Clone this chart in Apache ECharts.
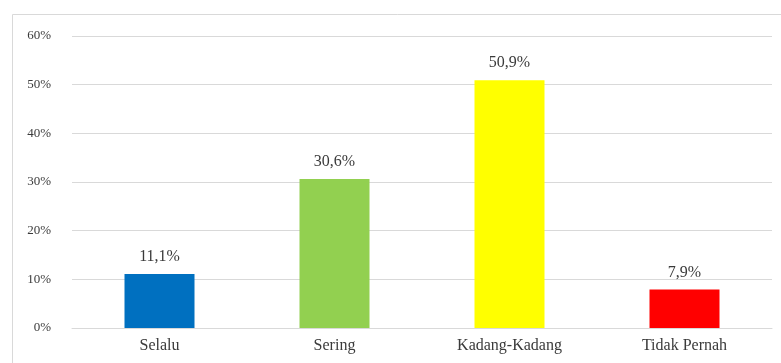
<!DOCTYPE html>
<html><head><meta charset="utf-8">
<script src="https://cdn.jsdelivr.net/npm/echarts@6/dist/echarts.min.js"></script>
<style>html,body{margin:0;padding:0;background:#fff}#c{width:781px;height:363px}</style>
</head><body><div id="c"></div>
<script>
const categories = ['Selalu', 'Sering', 'Kadang-Kadang', 'Tidak Pernah'];
const values = [11.1, 30.6, 50.9, 7.9];
const barColors = ['#0070C0', '#92D050', '#FFFF00', '#FF0000'];
const yTicks = [0, 10, 20, 30, 40, 50, 60];

const chart = echarts.init(document.getElementById('c'));
chart.setOption({
  animation: false,
  graphic: [{type: 'rect', shape: {x: 12.5, y: 14.5, width: 800, height: 400}, style: {fill: 'none', stroke: '#d9d9d9', lineWidth: 1}}],
  grid: {left: 72, right: 9, top: 36, bottom: 35, containLabel: false},
  xAxis: {
    type: 'category', data: categories,
    axisLine: {show: true, lineStyle: {color: '#d9d9d9'}},
    axisTick: {show: false},
    axisLabel: {color: '#3a3a3a', fontFamily: 'Liberation Serif', fontSize: 16, margin: 10}
  },
  yAxis: {
    type: 'value', min: yTicks[0], max: yTicks[yTicks.length - 1], interval: 10,
    axisLine: {show: false}, axisTick: {show: false},
    splitLine: {lineStyle: {color: '#d9d9d9'}},
    axisLabel: {color: '#3a3a3a', fontFamily: 'Liberation Serif', fontSize: 13, margin: 21, formatter: v => v + '%'}
  },
  series: [{
    type: 'bar', barWidth: '40%',
    data: values.map((v, i) => ({value: v, itemStyle: {color: barColors[i]}})),
    label: {show: true, position: 'top', distance: 9, color: '#3a3a3a', fontFamily: 'Liberation Serif', fontSize: 16,
      formatter: p => p.value.toFixed(1).replace('.', ',') + '%'}
  }]
});
</script></body></html>
